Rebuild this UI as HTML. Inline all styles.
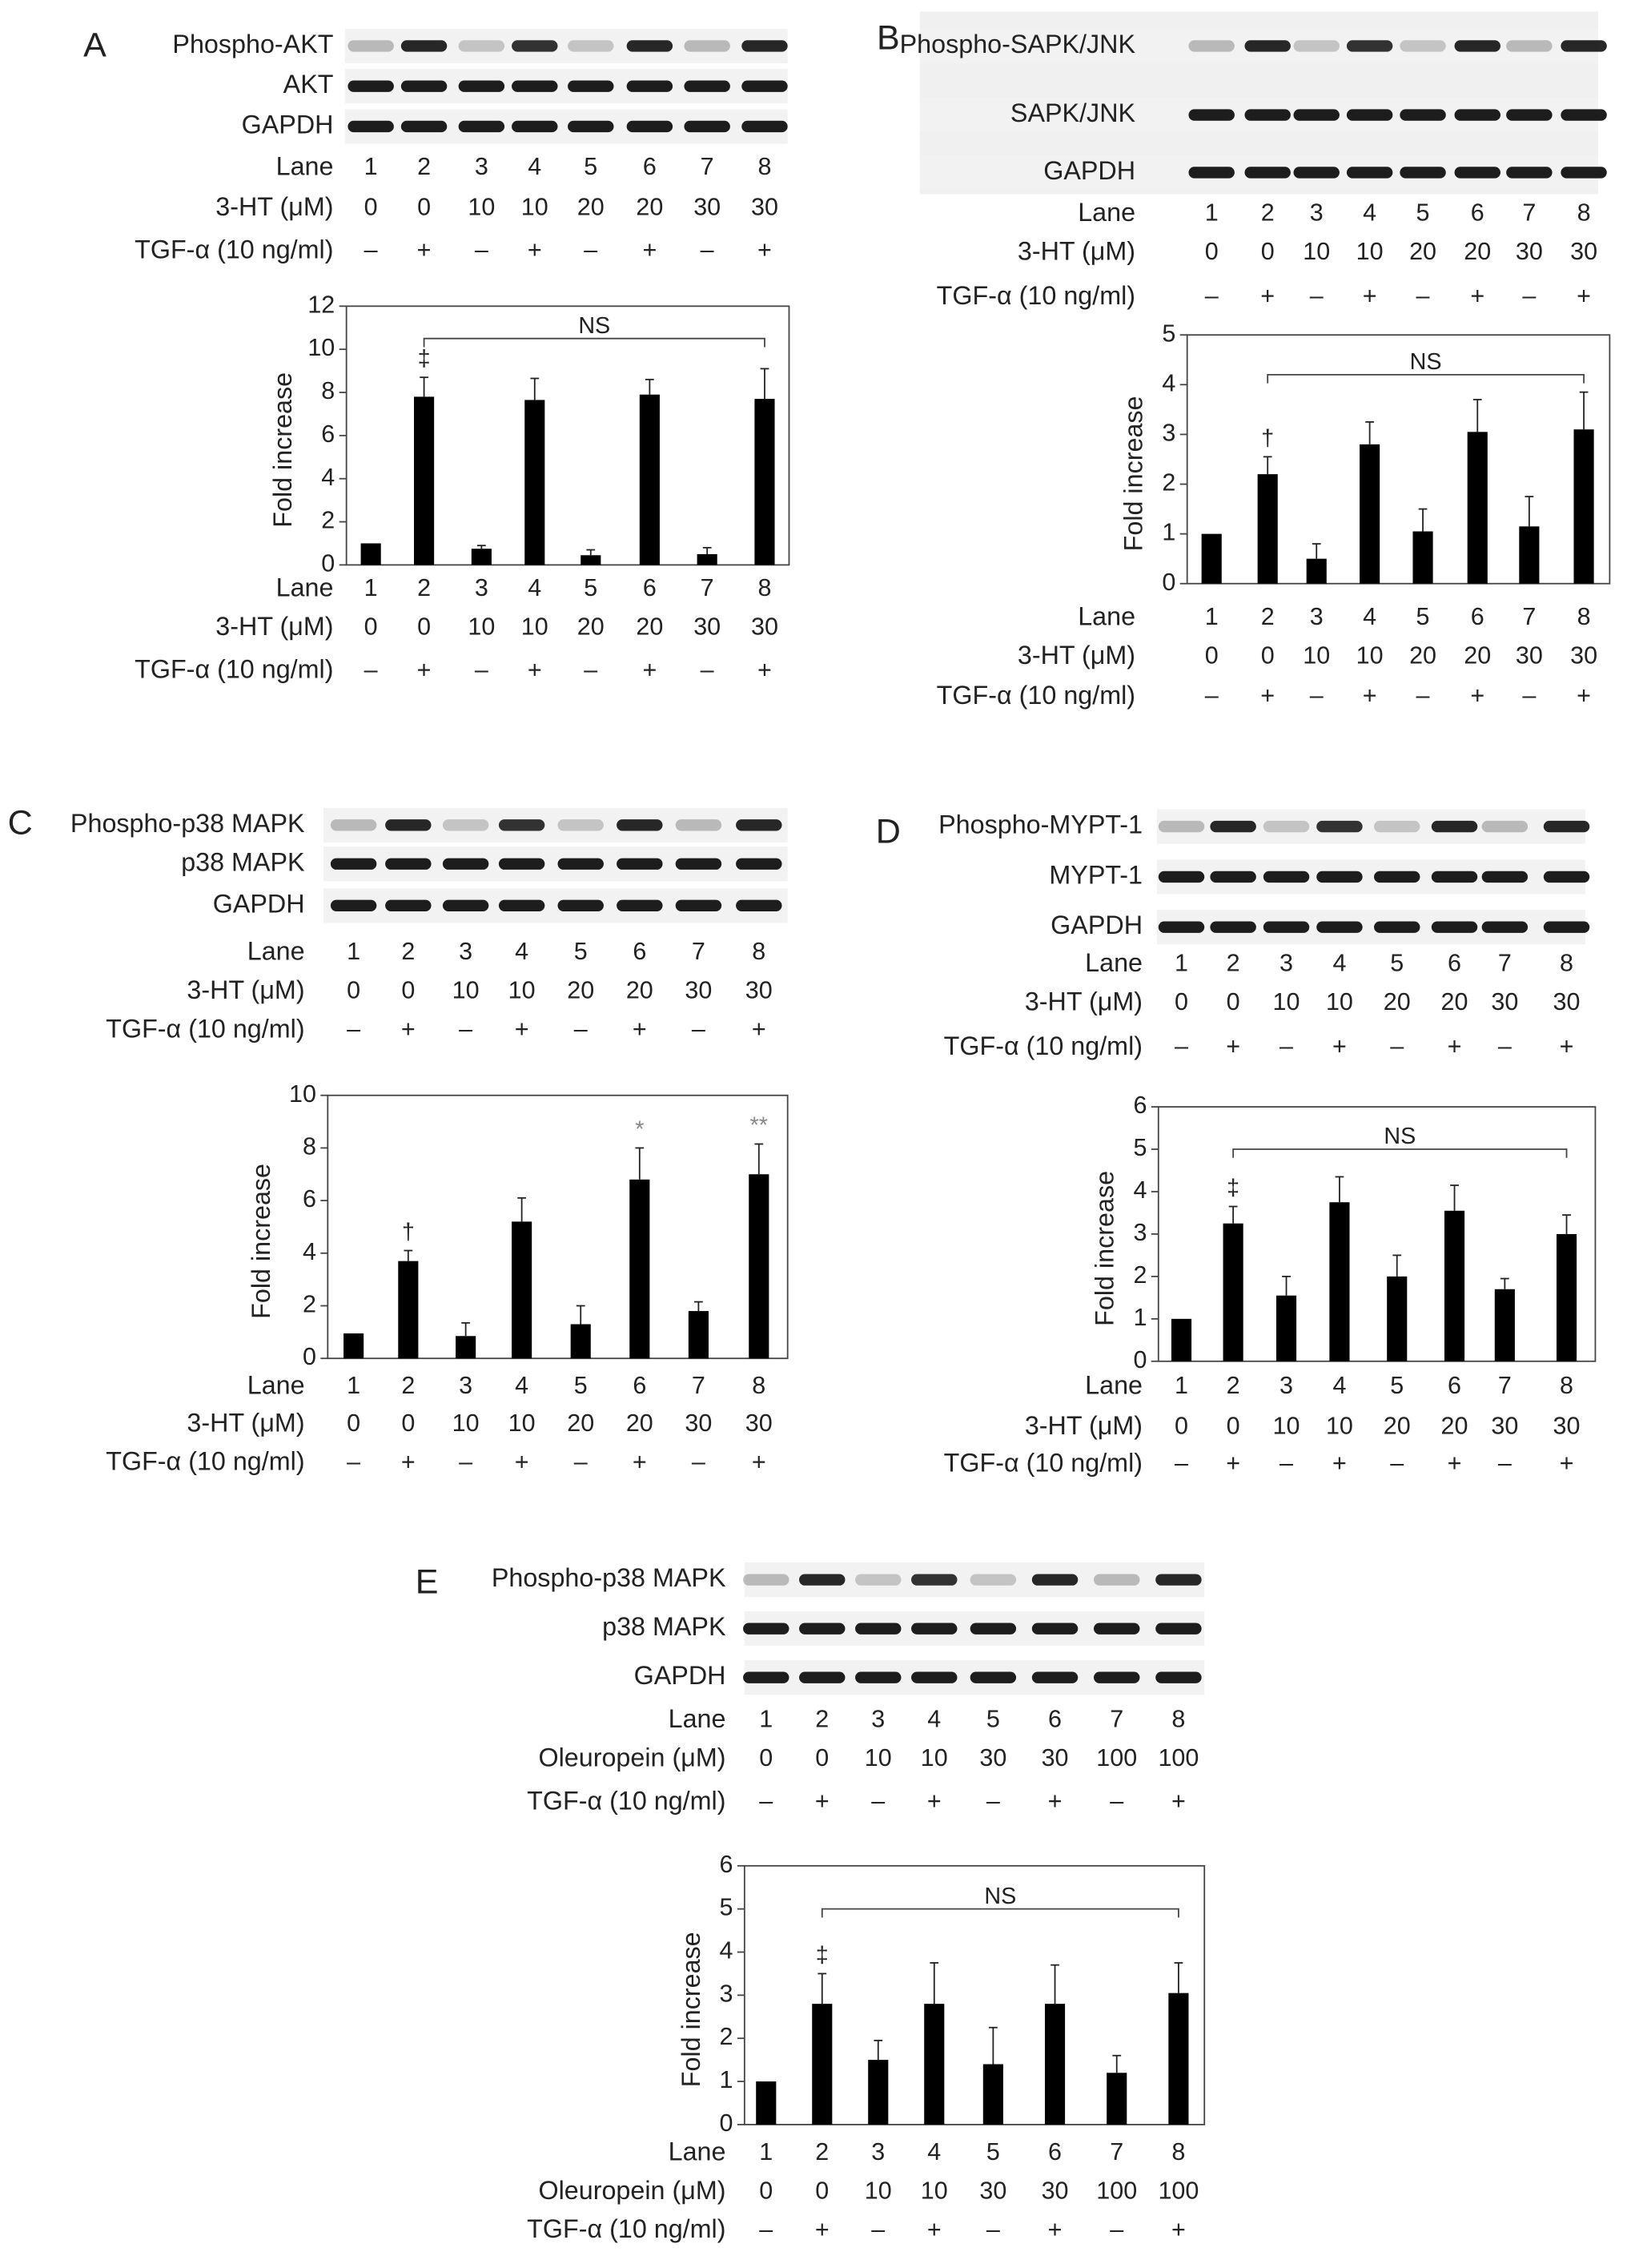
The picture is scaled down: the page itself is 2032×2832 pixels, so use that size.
<!DOCTYPE html>
<html><head><meta charset="utf-8"><style>
html,body{margin:0;padding:0;background:#fff}
svg text{font-family:"Liberation Sans",sans-serif;fill:#222}
</style></head><body>
<svg id="fig" width="2032" height="2827" viewBox="0 0 1132 1575" xmlns="http://www.w3.org/2000/svg"></svg>
<script>
// ---- data ----
const lanes = ["1","2","3","4","5","6","7","8"];
const dose3HT = ["0","0","10","10","20","20","30","30"];
const doseOle = ["0","0","10","10","30","30","100","100"];
const tgf = ["\u2013","+","\u2013","+","\u2013","+","\u2013","+"];
const valsA = [1, 7.8, 0.75, 7.65, 0.45, 7.9, 0.5, 7.7];
const errA  = [0, 0.9, 0.15, 1.0, 0.25, 0.7, 0.3, 1.4];
const valsB = [1, 2.2, 0.5, 2.8, 1.05, 3.05, 1.15, 3.1];
const errB  = [0, 0.35, 0.3, 0.45, 0.45, 0.65, 0.6, 0.75];
const valsC = [0.95, 3.7, 0.85, 5.2, 1.3, 6.8, 1.8, 7.0];
const errC  = [0, 0.4, 0.5, 0.9, 0.7, 1.2, 0.35, 1.15];
const valsD = [1, 3.25, 1.55, 3.75, 2.0, 3.55, 1.7, 3.0];
const errD  = [0, 0.4, 0.45, 0.6, 0.5, 0.6, 0.25, 0.45];
const valsE = [1, 2.8, 1.5, 2.8, 1.4, 2.8, 1.2, 3.05];
const errE  = [0, 0.7, 0.45, 0.95, 0.85, 0.9, 0.4, 0.7];
const ticksA = [0,2,4,6,8,10,12];
const ticksB = [0,1,2,3,4,5];
const ticksC = [0,2,4,6,8,10];
const ticks6 = [0,1,2,3,4,5,6];
const phosStrength = [0.25,0.9,0.2,0.85,0.2,0.9,0.25,0.9];

const NS="http://www.w3.org/2000/svg";
const svg=document.getElementById('fig');
function el(tag,attrs,parent){const e=document.createElementNS(NS,tag);for(const k in attrs)e.setAttribute(k,attrs[k]);(parent||svg).appendChild(e);return e;}
function txt(x,y,s,anchor,parent,size){const t=el('text',{x:x,y:y,'text-anchor':anchor||'middle','font-size':size||18,'dominant-baseline':'middle'},parent);t.textContent=s;return t;}

function panel(p){
  const g=el('g',{});
  
  
  const L=txt(p.letter[0],p.letter[1],p.id.toUpperCase(),'middle',g,24);
  
  
  if(p.blotBg){el('rect',{x:p.bx0,y:p.blotBg[0],width:p.bx1-p.bx0,height:p.blotBg[1]-p.blotBg[0],fill:'#f0f0f0'},g);}
  p.blots.forEach((b,bi)=>{
    const bg=el('g',{},g);
    
    
    el('rect',{x:p.bx0,y:b.y-12,width:p.bx1-p.bx0,height:24,fill:'#f2f2f2'},bg);
    txt(p.lx,b.y,b.name,'end',bg);
    p.lx2.forEach((x,i)=>{
      const s=bi===0?phosStrength[i]:0.95;
      el('rect',{x:x-16,y:b.y-4,width:32,height:8,rx:4,fill:'#111','fill-opacity':s},bg);
    });
  });
  function rows(ys,lbl){
    const r=[['Lane',lanes],[lbl,p.dose],['TGF-\u03b1 (10 ng/ml)',tgf]];
    r.forEach((row,ri)=>{
      const rg=el('g',{},g);
      
      
      txt(p.lx,ys[ri],row[0],'end',rg);
      row[1].forEach((v,i)=>txt(p.lx2[i],ys[ri],v,'middle',rg,17));
    });
  }
  const doseLbl=p.dose===doseOle?'Oleuropein (\u03bcM)':'3-HT (\u03bcM)';
  rows(p.rowTop,doseLbl);
  const c=p.chart;
  const cg=el('g',{},g);
  
  
  const ymax=c.ticks[c.ticks.length-1];
  const Y=v=>c.y1-(v/ymax)*(c.y1-c.y0);
  const X=i=>p.lx2[i];
  const frame=el('rect',{x:c.x0,y:c.y0,width:c.x1-c.x0,height:c.y1-c.y0,fill:'none',stroke:'#444','stroke-width':1},cg);
  
  
  c.ticks.forEach(t=>{
    el('line',{x1:c.x0-5,x2:c.x0,y1:Y(t),y2:Y(t),stroke:'#444'},cg);
    const tl=txt(c.x0-8,Y(t),String(t),'end',cg,17);
    
    
  });
  const yl=txt(0,0,'Fold increase','middle',cg,18);
  yl.setAttribute('transform','translate('+c.ylx+','+((c.y0+c.y1)/2+10)+') rotate(-90)');
  
  
  c.vals.forEach((v,i)=>{
    const b=el('rect',{x:X(i)-7,y:Y(v),width:14,height:c.y1-Y(v),fill:'#000'},cg);
    
    
    const e=c.errs[i];
    if(e>0){
      el('line',{x1:X(i),x2:X(i),y1:Y(v),y2:Y(v+e),stroke:'#222'},cg);
      el('line',{x1:X(i)-3,x2:X(i)+3,y1:Y(v+e),y2:Y(v+e),stroke:'#222'},cg);
    }
  });
  if(c.ns!==undefined){
    const ny=Y(c.ns);
    const br=el('path',{d:'M'+X(1)+','+(ny+6)+'V'+ny+'H'+X(7)+'V'+(ny+6),fill:'none',stroke:'#444'},cg);
    
    
    txt((X(1)+X(7))/2,ny-8,'NS','middle',cg,16);
  }
  (c.marks||[]).forEach(m=>{
    const mt=txt(X(m[0]),Y(c.vals[m[0]]+c.errs[m[0]])-12,m[1],'middle',cg,16);
    if(m[2])mt.setAttribute('style','fill:#888');
    
    
  });
  rows(p.rowBot,doseLbl);
}

panel({id:'a',letter:[66,33],lx:232,bx0:240,bx1:548,lx2:[258,295,335,372,411,452,492,532],dose:dose3HT,
 blots:[{name:'Phospho-AKT',y:32},{name:'AKT',y:60},{name:'GAPDH',y:88}],rowTop:[117,145,175],rowBot:[410,437,467],
 chart:{x0:241,x1:549,y0:213,y1:393,ticks:ticksA,vals:valsA,errs:errA,ylx:198,ns:10.5,marks:[[1,'\u2021']]}});
panel({id:'b',letter:[618,28],lx:790,bx0:640,bx1:1112,lx2:[843,882,916,953,990,1028,1064,1102],dose:dose3HT,blotBg:[8,135],
 blots:[{name:'Phospho-SAPK/JNK',y:32},{name:'SAPK/JNK',y:80},{name:'GAPDH',y:120}],rowTop:[149,176,207],rowBot:[430,457,485],
 chart:{x0:826,x1:1120,y0:233,y1:406,ticks:ticksB,vals:valsB,errs:errB,ylx:790,ns:4.2,marks:[[1,'\u2020']]}});
panel({id:'c',letter:[14,574],lx:212,bx0:225,bx1:548,lx2:[246,284,324,363,404,445,486,528],dose:dose3HT,
 blots:[{name:'Phospho-p38 MAPK',y:574},{name:'p38 MAPK',y:601},{name:'GAPDH',y:630}],rowTop:[663,690,717],rowBot:[965,991,1018],
 chart:{x0:228,x1:548,y0:762,y1:945,ticks:ticksC,vals:valsC,errs:errC,ylx:183,marks:[[1,'\u2020'],[5,'*',1],[7,'**',1]]}});
panel({id:'d',letter:[618,580],lx:795,bx0:805,bx1:1103,lx2:[822,858,895,932,972,1012,1047,1090],dose:dose3HT,
 blots:[{name:'Phospho-MYPT-1',y:575},{name:'MYPT-1',y:610},{name:'GAPDH',y:645}],rowTop:[671,698,729],rowBot:[965,993,1019],
 chart:{x0:806,x1:1110,y0:770,y1:947,ticks:ticks6,vals:valsD,errs:errD,ylx:770,ns:5,marks:[[1,'\u2021']]}});
panel({id:'e',letter:[297,1102],lx:505,bx0:518,bx1:838,lx2:[533,572,611,650,691,734,777,820],dose:doseOle,
 blots:[{name:'Phospho-p38 MAPK',y:1099},{name:'p38 MAPK',y:1133},{name:'GAPDH',y:1167}],rowTop:[1197,1224,1254],rowBot:[1498,1525,1552],
 chart:{x0:518,x1:838,y0:1298,y1:1478,ticks:ticks6,vals:valsE,errs:errE,ylx:482,ns:5,marks:[[1,'\u2021']]}});
</script>
</body></html>
